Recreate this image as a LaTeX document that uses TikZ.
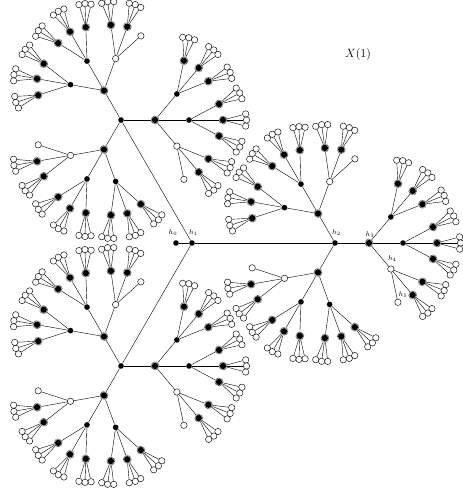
\documentclass[tikz,border=0pt]{standalone}
\usetikzlibrary{calc}
\tikzset{
  edge/.style={line width=0.4pt,draw=black},
  bnode/.style={circle,fill=black,inner sep=0pt,minimum size=5.6pt},
  wnode/.style={circle,draw=black,fill=white,line width=0.45pt,inner sep=0pt,minimum size=6.4pt},
  hnode/.style={circle,inner sep=0pt,minimum size=7.8pt,draw=black!75,dash pattern=on 0.5pt off 0.7pt,line width=1.0pt,
    path picture={\fill[black] (path picture bounding box.center) circle (3.2pt);}},
  lab/.style={inner sep=0pt,font=\fontsize{7}{8}\selectfont},
}
% leaf (depth 5)
\newcommand\Lf[3]{\node[wnode] (#2) at ($(#1)+({#3}:23.5)$) {}; \draw[edge] (#1) -- (#2);}
% hatched node with three leaves (depth 4)
\newcommand\Hf[3]{\node[hnode] (#2) at ($(#1)+({#3}:34)$) {}; \draw[edge] (#1) -- (#2);
  \Lf{#2}{#2a}{#3+15}\Lf{#2}{#2b}{#3}\Lf{#2}{#2c}{#3-15}}
% white leaf at depth 4
\newcommand\Wf[3]{\node[wnode] (#2) at ($(#1)+({#3}:34)$) {}; \draw[edge] (#1) -- (#2);}
% black node depth 3
\newcommand\Bt[3]{\node[bnode] (#2) at ($(#1)+({#3}:34)$) {}; \draw[edge] (#1) -- (#2);
  \Hf{#2}{#2a}{#3+28}\Hf{#2}{#2b}{#3}\Hf{#2}{#2c}{#3-28}}
% white node depth 3
\newcommand\Wt[3]{\node[wnode] (#2) at ($(#1)+({#3}:34)$) {}; \draw[edge] (#1) -- (#2);
  \Hf{#2}{#2a}{#3+28}\Hf{#2}{#2b}{#3}\Wf{#2}{#2c}{#3-28}}
% hatched node depth 2
\newcommand\Hs[3]{\node[hnode] (#2) at ($(#1)+({#3}:34)$) {}; \draw[edge] (#1) -- (#2);
  \Bt{#2}{#2a}{#3+50}\Bt{#2}{#2b}{#3}\Wt{#2}{#2c}{#3-50}}
% black node depth 1
\newcommand\Bo[4]{\node[bnode] (#2) at ($(#1)+({#3}:#4)$) {}; \draw[edge] (#1) -- (#2);
  \Hs{#2}{#2a}{#3+120}\Hs{#2}{#2b}{#3}\Hs{#2}{#2c}{#3-120}}
\begin{document}
\begin{tikzpicture}[x=1pt,y=1pt]
\useasboundingbox (0,0) rectangle (463,488);
\node[bnode] (h1) at (192,245) {};
\node[bnode] (h0) at (176,245) {};
\draw[edge] (h0) -- (h1);
\Bo{h1}{A}{120}{142}
\Bo{h1}{h2}{0}{143}
\Bo{h1}{C}{240}{142}
\node[lab] (l0) at ($(h0)+(-3,10)$) {$h_0$};
\node[lab] (l1) at ($(h1)+(1.5,10)$) {$h_1$};
\node[lab] (l2) at ($(h2)+(1.5,10)$) {$h_2$};
\node[lab] (l3) at ($(h2b)+(1,8.5)$) {$h_3$};
\node[lab] (l4) at ($(h2bc)+(1.5,10)$) {$h_4$};
\node[lab] (l5) at ($(h2bcc)+(5,8)$) {$h_5$};
\node[inner sep=0pt,font=\fontsize{13}{15}\selectfont] (title) at (358,433) {$X(1)$};
\end{tikzpicture}
\end{document}
